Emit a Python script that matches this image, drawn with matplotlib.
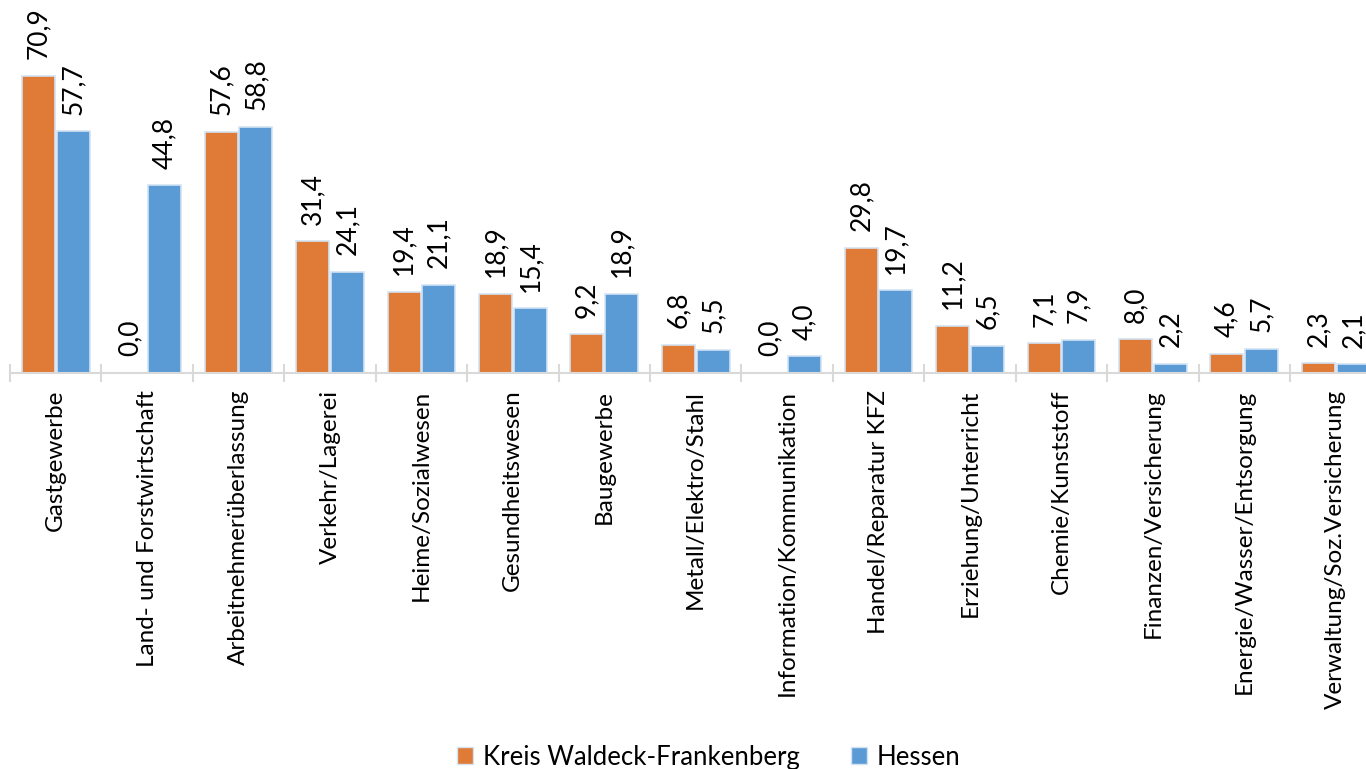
import matplotlib

matplotlib.use("Agg")
import matplotlib.pyplot as plt
import numpy as np
from matplotlib.patches import Patch

categories = [
    "Gastgewerbe",
    "Land- und Forstwirtschaft",
    "Arbeitnehmerüberlassung",
    "Verkehr/Lagerei",
    "Heime/Sozialwesen",
    "Gesundheitswesen",
    "Baugewerbe",
    "Metall/Elektro/Stahl",
    "Information/Kommunikation",
    "Handel/Reparatur KFZ",
    "Erziehung/Unterricht",
    "Chemie/Kunststoff",
    "Finanzen/Versicherung",
    "Energie/Wasser/Entsorgung",
    "Verwaltung/Soz.Versicherung",
]
kreis = [70.9, 0.0, 57.6, 31.4, 19.4, 18.9, 9.2, 6.8, 0.0, 29.8, 11.2, 7.1, 8.0, 4.6, 2.3]
hessen = [57.7, 44.8, 58.8, 24.1, 21.1, 15.4, 18.9, 5.5, 4.0, 19.7, 6.5, 7.9, 2.2, 5.7, 2.1]
series_names = ["Kreis Waldeck-Frankenberg", "Hessen"]

ORANGE = "#E07A37"
BLUE = "#5B9BD5"
EDGE = "#D3E3F3"
GRID = "#D9D9D9"

plt.rcParams["font.family"] = ["Lato", "DejaVu Sans"]

W, H = 1366, 769
fig = plt.figure(figsize=(W / 100, H / 100), dpi=100)

# axes in pixel units: baseline at y=373, 91.43 px per category, 4.19 px per unit
px_per_unit = 4.19
ymax = 80
left_px, base_px = 10, 373
ax = fig.add_axes([
    left_px / W,
    (H - base_px) / H,
    len(categories) * 91.43 / W,
    ymax * px_per_unit / H,
])

x = np.arange(len(categories)) + 0.5
w = 0.36
off = 0.19
b1 = ax.bar(x - off, kreis, w, color=ORANGE, edgecolor=EDGE, linewidth=1.2)
b2 = ax.bar(x + off, hessen, w, color=BLUE, edgecolor=EDGE, linewidth=1.2)

for bars, vals in ((b1, kreis), (b2, hessen)):
    for rect, v in zip(bars, vals):
        ax.annotate(
            f"{v:.1f}".replace(".", ","),
            (rect.get_x() + rect.get_width() / 2, v),
            xytext=(0, 12),
            textcoords="offset points",
            rotation=90,
            ha="center",
            va="bottom",
            fontsize=19,
            color="#000000",
            annotation_clip=False,
        )

ax.set_xlim(0, len(categories))
ax.set_ylim(0, ymax)
for s in ("top", "right", "left"):
    ax.spines[s].set_visible(False)
ax.spines["bottom"].set_color(GRID)
ax.spines["bottom"].set_linewidth(1.5)
ax.set_yticks([])

ax.set_xticks(x)
ax.set_xticklabels(categories, rotation=90, fontsize=17.5)
ax.tick_params(axis="x", which="major", length=0, pad=12)
ax.set_xticks(np.arange(len(categories) + 1), minor=True)
ax.tick_params(axis="x", which="minor", direction="inout", length=13, width=1.5, color=GRID)

handles = [Patch(facecolor=ORANGE, edgecolor=EDGE), Patch(facecolor=BLUE, edgecolor=EDGE)]
fig.legend(
    handles,
    series_names,
    loc="lower center",
    bbox_to_anchor=(709 / W, -0.031),
    ncol=2,
    frameon=False,
    fontsize=18.5,
    handlelength=0.6,
    handleheight=0.6,
    handletextpad=0.4,
    columnspacing=2.0,
)

fig.savefig("out.png", dpi=100)
